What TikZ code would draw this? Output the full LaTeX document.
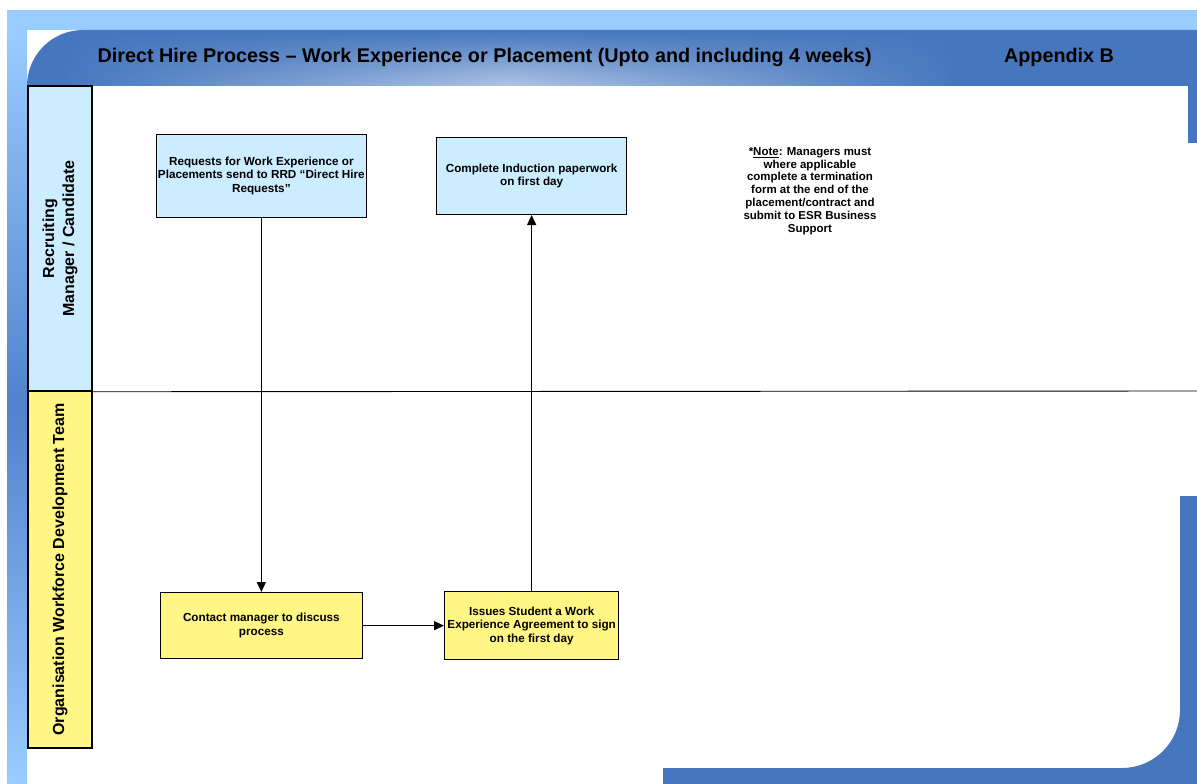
\documentclass[tikz,border=0pt]{standalone}
\usepackage{fontspec}
\setmainfont{Liberation Sans}
\usetikzlibrary{positioning, matrix, arrows.meta, fadings}
\definecolor{frameb}{RGB}{153,204,255}
\definecolor{stripb}{RGB}{80,130,205}
\definecolor{barb}{RGB}{70,119,190}
\definecolor{glowb}{RGB}{176,198,230}
\definecolor{laneb}{RGB}{204,236,255}
\definecolor{laney}{RGB}{255,246,133}

\begin{document}
\begin{tikzpicture}[x=1pt, y=-1pt,
            bn/.style={draw, line width=1.3pt, fill=laneb, align=center, inner sep=1pt,
              font=\fontsize{11.7}{13.5}\selectfont\bfseries},
            yn/.style={bn, fill=laney},
            ln/.style={draw, line width=1.5pt, rotate=90, minimum height=64pt, inner sep=0pt,
              align=center, font=\fontsize{16}{20}\selectfont\bfseries},
            hd/.style={font=\fontsize{19.8}{22}\selectfont\bfseries},
            ->/.style={-{Triangle[length=10pt, width=9pt]}, line width=1.3pt}]
          \useasboundingbox (0,0) rectangle (1197,784);
          \fill[frameb] (7,10) rectangle (1197,30);
          \shade[top color=frameb, bottom color=frameb, middle color=stripb] (7,30) rectangle (27,784);
          \fill[barb] (27,86) [rounded corners=56pt] -- (27,30) [sharp corners] -- (1197,30) -- (1197,86) -- cycle;
          \shade[left color=barb, right color=barb, middle color=glowb, path fading=north] (60,30) rectangle (960,86);
          \fill[barb] (1188,86) rectangle (1197,143);
          \fill[barb] (663,784) -- (663,768) [rounded corners=58pt] -- (1180,768) [sharp corners]
            -- (1180,496) -- (1197,496) -- (1197,784) -- cycle;
          \node[hd, anchor=west] (ttl) at (94,57) {Direct Hire Process – Work Experience or Placement (Upto and including 4 weeks)};
          \node[hd] (app) at (1059,57) {Appendix B};
          \node[ln, fill=laneb, minimum width=305pt] (mgr) at (60,238.5) {Recruiting\\Manager / Candidate};
          \node[ln, fill=laney, minimum width=357pt] (owd) at (60,569.5) {Organisation Workforce Development Team};
          \coordinate (sepend) at (1197,391);
          \draw[line width=0.9pt] (mgr.south west) -- (sepend);
          \matrix[row sep=373pt, column sep=69pt] at (391.5,397) {
            \node[bn, minimum width=210pt, minimum height=83pt] (req)
              {Requests for Work Experience or\\Placements send to RRD “Direct Hire\\Requests”}; &
            \node[bn, minimum width=190pt, minimum height=77pt] (ind)
              {Complete Induction paperwork\\on first day}; \\
            \node[yn, minimum width=202pt, minimum height=66pt] (con)
              {Contact manager to discuss\\process}; &
            \node[yn, minimum width=174pt, minimum height=68pt] (iss)
              {Issues Student a Work\\Experience Agreement to sign\\on the first day}; \\
          };
          \node[align=center, font=\fontsize{11.5}{12.8}\selectfont\bfseries] (note) at (810,191)
            {*\underline{Note}: Managers must\\where applicable\\complete a termination\\form at the end of the\\placement/contract and\\submit to ESR Business\\Support};
          \draw [->] (req) to (con);
          \draw [->] (con) to (iss);
          \draw [->] (iss) to (ind);
        \end{tikzpicture}
\end{document}
